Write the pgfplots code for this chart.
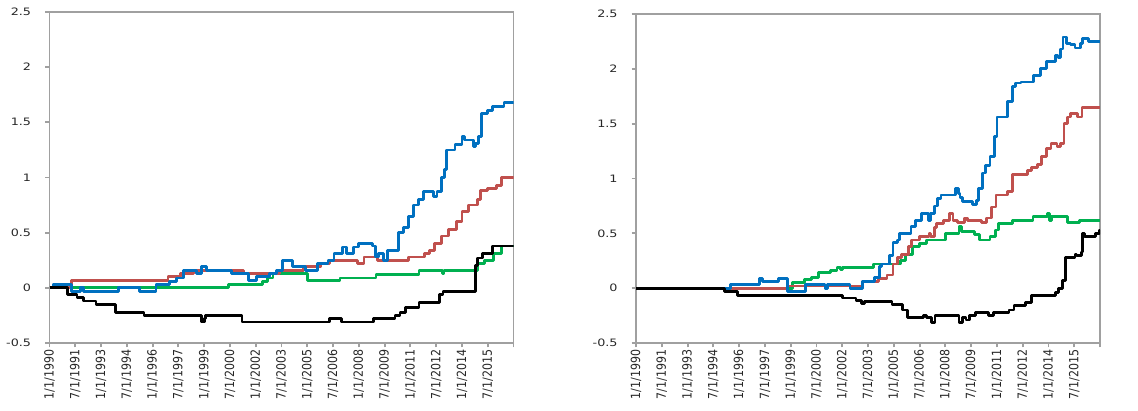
\documentclass[border=0pt]{standalone}
\usepackage{pgfplots}
\pgfplotsset{compat=1.18}
\usepackage{fontspec}
\setmainfont{DejaVu Sans}
\definecolor{sblue}{HTML}{0070C0}
\definecolor{sred}{HTML}{C0504D}
\definecolor{sgreen}{HTML}{00B050}
\definecolor{axgray}{HTML}{A0A0A0}
\definecolor{txt}{HTML}{262626}
\newcommand\xl[1]{\scalebox{1}[1.15]{#1}}
\newcommand\yl[1]{\scalebox{1.25}[1]{#1}}
\pgfplotsset{
  panel/.style={
    anchor=south west, scale only axis,
    width=232pt, height=165.5pt,
    xmin=1990, xmax=2017, ymin=-0.5, ymax=2.5,
    axis line style={draw=axgray, line width=0.95pt},
    tick style={draw=axgray, line width=0.95pt},
    tick align=outside, major tick length=2.2pt, tick pos=left,
    xtick={1990,1991.5,1993,1994.5,1996,1997.5,1999,2000.5,2002,2003.5,2005,2006.5,2008,2009.5,2011,2012.5,2014,2015.5,2017},
    xticklabels={\xl{1/1/1990},\xl{7/1/1991},\xl{1/1/1993},\xl{7/1/1994},\xl{1/1/1996},\xl{7/1/1997},\xl{1/1/1999},\xl{7/1/2000},\xl{1/1/2002},\xl{7/1/2003},\xl{1/1/2005},\xl{7/1/2006},\xl{1/1/2008},\xl{7/1/2009},\xl{1/1/2011},\xl{7/1/2012},\xl{1/1/2014},\xl{7/1/2015},{}},
    x tick label style={rotate=90, anchor=east, font=\fontsize{5.5}{6}\selectfont, text=txt, inner sep=1pt},
    ytick={-0.5,0,0.5,1,1.5,2,2.5},
    yticklabels={\yl{-0.5},\yl{0},\yl{0.5},\yl{1},\yl{1.5},\yl{2},\yl{2.5}},
    y tick label style={font=\fontsize{5.1}{6}\selectfont, text=txt, xshift=-3.5pt},
    no markers,
    every axis plot/.append style={const plot, line width=1.4pt, line join=round},
  }
}
\begin{document}
\begin{tikzpicture}
\path[use as bounding box] (0pt,0pt) rectangle (569pt,205.5pt);
% ---------------- left panel ----------------
\begin{axis}[panel, at={(24.75pt,34pt)}]
\addplot[color=sgreen] coordinates {(1990,0)(2000.4,0.03)(2002.4,0.06)(2002.7,0.09)(2003.0,0.13)(2005.0,0.07)(2006.9,0.09)(2009.0,0.12)(2011.5,0.16)(2012.85,0.13)(2012.95,0.16)(2014.9,0.22)(2015.3,0.25)(2015.85,0.31)(2016.3,0.38)(2017,0.38)};
\addplot[color=sred] coordinates {(1990,0)(1991.3,0.065)(1996.9,0.1)(1997.6,0.13)(1998.4,0.16)(2001.3,0.13)(2003.4,0.16)(2004.8,0.19)(2005.8,0.22)(2006.3,0.25)(2007.9,0.22)(2008.3,0.28)(2009.1,0.25)(2010.9,0.28)(2011.8,0.31)(2012.1,0.34)(2012.4,0.40)(2012.8,0.47)(2013.2,0.53)(2013.7,0.6)(2014.0,0.69)(2014.4,0.75)(2014.9,0.8)(2015.1,0.88)(2015.5,0.9)(2016.0,0.93)(2016.3,1.0)(2017,1.0)};
\addplot[color=sblue] coordinates {(1990,0)(1990.2,0.03)(1991.3,-0.03)(1991.8,0)(1992.0,-0.03)(1994.0,0)(1995.25,-0.03)(1996.2,0.03)(1997.0,0.06)(1997.4,0.09)(1997.8,0.16)(1998.55,0.13)(1998.85,0.19)(1999.15,0.16)(2000.6,0.13)(2001.6,0.07)(2002.05,0.10)(2002.8,0.13)(2003.2,0.16)(2003.55,0.25)(2004.15,0.19)(2004.9,0.16)(2005.6,0.22)(2006.2,0.25)(2006.55,0.31)(2007.05,0.37)(2007.3,0.31)(2007.7,0.37)(2008.0,0.40)(2008.8,0.38)(2008.95,0.28)(2009.15,0.31)(2009.45,0.25)(2009.65,0.34)(2010.3,0.5)(2010.6,0.55)(2010.9,0.65)(2011.2,0.75)(2011.45,0.80)(2011.75,0.87)(2012.35,0.83)(2012.55,0.87)(2012.8,1.0)(2013.0,1.07)(2013.1,1.25)(2013.6,1.30)(2014.0,1.37)(2014.15,1.34)(2014.65,1.28)(2014.77,1.31)(2014.97,1.37)(2015.15,1.58)(2015.5,1.61)(2015.8,1.64)(2016.45,1.68)(2017,1.68)};
\addplot[color=black] coordinates {(1990,0)(1991.05,-0.06)(1991.6,-0.09)(1992.0,-0.12)(1992.7,-0.15)(1993.85,-0.22)(1995.5,-0.25)(1998.85,-0.31)(1999.0,-0.28)(1999.1,-0.25)(2001.2,-0.31)(2006.3,-0.28)(2007.0,-0.31)(2008.85,-0.28)(2010.1,-0.25)(2010.4,-0.22)(2010.7,-0.18)(2011.5,-0.13)(2012.7,-0.06)(2012.9,-0.03)(2014.8,0.2)(2014.9,0.27)(2015.2,0.31)(2015.8,0.38)(2017,0.38)};
\end{axis}
% ---------------- right panel ----------------
\begin{axis}[panel, at={(318pt,34pt)}, height=164.5pt]
\addplot[color=sgreen] coordinates {(1990,0)(1999.1,0.05)(1999.8,0.08)(2000.2,0.1)(2000.6,0.14)(2001.3,0.16)(2001.7,0.19)(2001.9,0.17)(2002.0,0.19)(2003.8,0.22)(2005.4,0.25)(2005.7,0.31)(2006.1,0.38)(2006.5,0.41)(2006.9,0.44)(2008.0,0.5)(2008.8,0.56)(2008.95,0.52)(2009.7,0.49)(2010.0,0.44)(2010.6,0.47)(2010.9,0.53)(2011.1,0.59)(2011.9,0.62)(2013.1,0.65)(2013.95,0.68)(2014.05,0.62)(2014.2,0.65)(2015.1,0.60)(2015.8,0.62)(2017,0.62)};
\addplot[color=sred] coordinates {(1990,0)(1998.8,0.02)(2003.2,0.06)(2004.1,0.09)(2004.6,0.12)(2004.95,0.22)(2005.2,0.28)(2005.45,0.31)(2005.85,0.38)(2006.05,0.44)(2006.5,0.47)(2007.05,0.5)(2007.15,0.47)(2007.35,0.55)(2007.5,0.59)(2007.9,0.62)(2008.25,0.68)(2008.45,0.62)(2008.7,0.6)(2009.1,0.64)(2009.3,0.62)(2010.1,0.6)(2010.4,0.64)(2010.7,0.74)(2010.95,0.85)(2011.6,0.88)(2011.9,1.04)(2012.8,1.07)(2013.0,1.10)(2013.35,1.13)(2013.6,1.2)(2013.9,1.27)(2014.15,1.32)(2014.5,1.29)(2014.7,1.32)(2014.9,1.5)(2015.1,1.56)(2015.3,1.59)(2015.7,1.56)(2015.95,1.65)(2017,1.65)};
\addplot[color=sblue] coordinates {(1990,0)(1995.5,0.03)(1997.2,0.09)(1997.35,0.06)(1998.3,0.09)(1998.8,-0.03)(1999.85,0.03)(2001.0,0.0)(2001.15,0.03)(2002.45,0.0)(2003.2,0.06)(2003.9,0.1)(2004.15,0.2)(2004.3,0.22)(2004.75,0.3)(2004.95,0.42)(2005.2,0.44)(2005.35,0.5)(2006.0,0.56)(2006.25,0.62)(2006.6,0.68)(2007.0,0.62)(2007.15,0.68)(2007.35,0.75)(2007.55,0.82)(2007.75,0.85)(2008.6,0.91)(2008.75,0.86)(2008.85,0.83)(2009.0,0.79)(2009.6,0.76)(2009.8,0.8)(2009.95,0.91)(2010.15,1.05)(2010.35,1.12)(2010.6,1.2)(2010.85,1.38)(2011.0,1.56)(2011.6,1.7)(2011.9,1.84)(2012.1,1.87)(2012.4,1.88)(2013.15,1.94)(2013.55,2.0)(2013.9,2.07)(2014.4,2.12)(2014.55,2.1)(2014.7,2.18)(2014.85,2.29)(2015.05,2.23)(2015.3,2.22)(2015.55,2.19)(2015.85,2.23)(2016.0,2.28)(2016.35,2.25)(2017,2.25)};
\addplot[color=black] coordinates {(1990,0)(1995.15,-0.03)(1995.9,-0.07)(2002.0,-0.09)(2002.8,-0.11)(2003.1,-0.14)(2003.3,-0.12)(2004.9,-0.15)(2005.5,-0.2)(2005.8,-0.27)(2006.75,-0.25)(2006.9,-0.27)(2007.2,-0.31)(2007.4,-0.25)(2008.8,-0.31)(2009.0,-0.27)(2009.2,-0.29)(2009.4,-0.25)(2009.75,-0.22)(2010.5,-0.25)(2010.8,-0.22)(2011.7,-0.2)(2012.0,-0.16)(2012.65,-0.13)(2013.0,-0.07)(2014.4,-0.04)(2014.6,0.0)(2014.8,0.07)(2015.0,0.28)(2015.55,0.31)(2015.65,0.30)(2015.9,0.33)(2016.0,0.5)(2016.1,0.47)(2016.75,0.5)(2016.95,0.53)(2017,0.53)};
\end{axis}
\end{tikzpicture}
\end{document}
